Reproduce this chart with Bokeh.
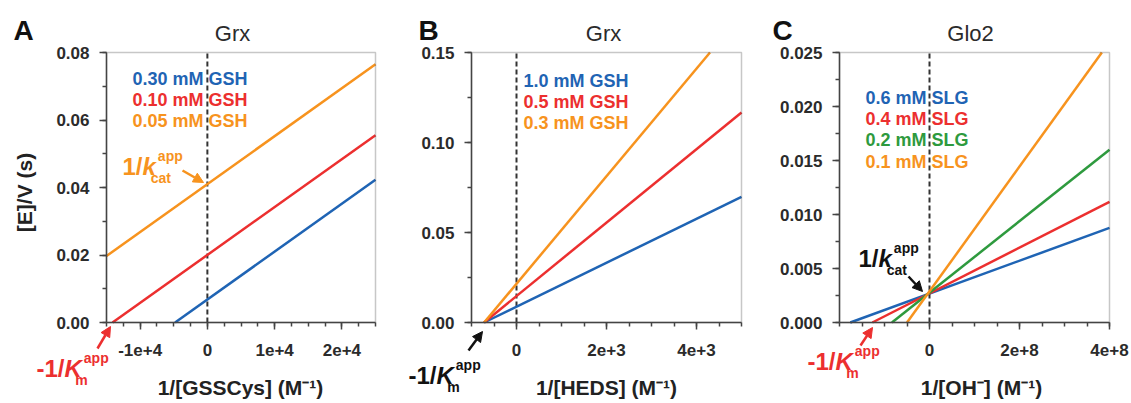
import math
from bokeh.plotting import figure
from bokeh.models import Label, Arrow, NormalHead, FixedTicker, Range1d, BoxAnnotation
from bokeh.layouts import row
from bokeh.embed import file_html
from bokeh.resources import INLINE

FONT = "Liberation Sans"
BLUE, RED, ORANGE, GREEN = "#1f64b4", "#ec2f2f", "#f7931e", "#2e9a3e"
DARK = "#2b2b2b"
AXIS = "#444444"

# ---------------- data ----------------
# Panel A: Grx, 1/[GSSCys]
a_title = "Grx"
a_labels = ["0.30 mM GSH", "0.10 mM GSH", "0.05 mM GSH"]
a_x_030 = [-4800, 25000]
a_y_030 = [0.0, 0.0423]
a_x_010 = [-14100, 25000]
a_y_010 = [0.0, 0.0555]
a_x_005 = [-15000, 25000]
a_y_005 = [0.0197, 0.0765]
a_xticks = [-10000, 0, 10000, 20000]
a_xtick_labels = ["-1e+4", "0", "1e+4", "2e+4"]
a_yticks = [0.0, 0.02, 0.04, 0.06, 0.08]
a_ytick_labels = ["0.00", "0.02", "0.04", "0.06", "0.08"]

# Panel B: Grx, 1/[HEDS]
b_title = "Grx"
b_labels = ["1.0 mM GSH", "0.5 mM GSH", "0.3 mM GSH"]
b_x_10 = [-720, 5000]
b_y_10 = [0.0, 0.0698]
b_x_05 = [-720, 5000]
b_y_05 = [0.0, 0.1167]
b_x_03 = [-720, 4300]
b_y_03 = [0.0, 0.15]
b_xticks = [0, 2000, 4000]
b_xtick_labels = ["0", "2e+3", "4e+3"]
b_yticks = [0.0, 0.05, 0.1, 0.15]
b_ytick_labels = ["0.00", "0.05", "0.10", "0.15"]

# Panel C: Glo2, 1/[OH-]
c_title = "Glo2"
c_labels = ["0.6 mM SLG", "0.4 mM SLG", "0.2 mM SLG", "0.1 mM SLG"]
c_x_06 = [-1.76e8, 4e8]
c_y_06 = [0.0, 0.00876]
c_x_04 = [-1.27e8, 4e8]
c_y_04 = [0.0, 0.01117]
c_x_02 = [-0.835e8, 4e8]
c_y_02 = [0.0, 0.0160]
c_x_01 = [-0.5e8, 3.83e8]
c_y_01 = [0.0, 0.025]
c_xticks = [0, 2e8, 4e8]
c_xtick_labels = ["0", "2e+8", "4e+8"]
c_yticks = [0.0, 0.005, 0.01, 0.015, 0.02, 0.025]
c_ytick_labels = ["0.000", "0.005", "0.010", "0.015", "0.020", "0.025"]

# ---------------- layout helpers ----------------
H = 402
BT, BB = 52, 322  # plot box top / bottom in page pixels


def make_panel(origin, width, bx0, bx1, xr, yr, xticks, xlabels, xminor,
               yticks, ylabels, yminor):
    kx = (bx1 - bx0) / (xr[1] - xr[0])
    ky = (BB - BT) / (yr[1] - yr[0])
    x_start = xr[0] - (bx0 - origin) / kx
    x_end = xr[1] + (origin + width - bx1) / kx
    y_start = yr[0] - (H - BB) / ky
    y_end = yr[1] + BT / ky
    p = figure(width=width, height=H, x_range=Range1d(x_start, x_end),
               y_range=Range1d(y_start, y_end),
               output_backend="svg", toolbar_location=None, title=None,
               min_border=0, min_border_left=0, min_border_right=0,
               min_border_top=0, min_border_bottom=0)
    p.xgrid.grid_line_color = None
    p.ygrid.grid_line_color = None
    p.outline_line_color = None
    p.background_fill_color = "white"
    p.border_fill_color = "white"
    p.xaxis.fixed_location = yr[0]
    p.yaxis.fixed_location = xr[0]
    p.xaxis.bounds = (xr[0], xr[1])
    p.yaxis.bounds = (yr[0], yr[1])
    p.xaxis.ticker = FixedTicker(ticks=xticks, minor_ticks=xminor)
    p.yaxis.ticker = FixedTicker(ticks=yticks, minor_ticks=yminor)
    p.xaxis.major_label_overrides = {t: l for t, l in zip(xticks, xlabels)}
    p.yaxis.major_label_overrides = {t: l for t, l in zip(yticks, ylabels)}
    for ax in (p.xaxis[0], p.yaxis[0]):
        ax.axis_line_color = AXIS
        ax.axis_line_width = 1.5
        ax.major_tick_line_color = AXIS
        ax.major_tick_line_width = 1.5
        ax.major_tick_in = 0
        ax.major_tick_out = 7
        ax.minor_tick_line_color = AXIS
        ax.minor_tick_line_width = 1.5
        ax.minor_tick_in = 0
        ax.minor_tick_out = 4
        ax.major_label_text_font = FONT
        ax.major_label_text_font_size = "17px"
        ax.major_label_text_font_style = "bold"
        ax.major_label_text_color = DARK
    p.xaxis.major_label_standoff = 14
    p.yaxis.major_label_standoff = 10
    # plot box outline and dashed line at x = 0
    p.add_layout(BoxAnnotation(left=xr[0], right=xr[1], bottom=yr[0], top=yr[1],
                               fill_alpha=0, line_color=AXIS, line_width=1.5))
    p.segment(x0=[0], y0=[yr[0]], x1=[0], y1=[yr[1]], line_color="#333333",
              line_dash="5 3", line_width=2)

    def conv(px, py):
        x = xr[0] + (px - bx0) / kx
        y = yr[0] + (BB - py) / ky
        return x, y

    return p, conv


def text(p, conv, px, py, s, size, color, style="bold", align="left",
         on_baseline=True, angle=0.0):
    # py is the alphabetic baseline (on_baseline) or the vertical centre
    cy = py - 0.36 * size if on_baseline else py
    x, y = conv(px, cy)
    p.add_layout(Label(x=x, y=y, text=s, text_font=FONT, text_font_size=f"{size}px",
                       text_font_style=style, text_color=color, text_align=align,
                       text_baseline="middle", angle=angle))


def arrow(p, conv, p0, p1, color):
    x0, y0 = conv(*p0)
    x1, y1 = conv(*p1)
    p.add_layout(Arrow(end=NormalHead(size=10, line_color=color, fill_color=color,
                                      line_width=1),
                       x_start=x0, y_start=y0, x_end=x1, y_end=y1,
                       line_color=color, line_width=2.5))


def kin_label(p, conv, px, pyb, color, letter, sub, size=24):
    s = size
    if letter == "K":
        prefix, pw, lw = "-1/", (0.333 + 0.556 + 0.278) * s, 0.722 * s
    else:
        prefix, pw, lw = "1/", (0.556 + 0.278) * s, 0.556 * s
    small = round(0.58 * s)
    text(p, conv, px, pyb, prefix, s, color)
    text(p, conv, px + pw, pyb, letter, s, color, style="bold italic")
    text(p, conv, px + pw + lw + 2, pyb - 0.6 * s, "app", small, color)
    text(p, conv, px + pw + lw * 0.62, pyb + 0.32 * s, sub, small, color)


def header(p, conv, letter, lx, title, tx):
    text(p, conv, lx, 40, letter, 28, "#111111")
    text(p, conv, tx, 41, title, 22, DARK, style="normal", align="center")


def xlabel(p, conv, cx, s):
    text(p, conv, cx, 395, s, 21, "#222222", align="center")


def rng(a, b, step):
    n = int(round((b - a) / step))
    return [a + i * step for i in range(n + 1)]


# ---------------- Panel A ----------------
pa, ca = make_panel(0, 400, 106, 375, (-15000, 25000), (0, 0.08),
                    a_xticks, a_xtick_labels, rng(-15000, 25000, 2500),
                    a_yticks, a_ytick_labels, rng(0, 0.08, 0.01))
pa.line(a_x_030, a_y_030, line_color=BLUE, line_width=2.5)
pa.line(a_x_010, a_y_010, line_color=RED, line_width=2.5)
pa.line(a_x_005, a_y_005, line_color=ORANGE, line_width=2.5)
header(pa, ca, "A", 13, a_title, 232)
for lab, col, yy in zip(a_labels, [BLUE, RED, ORANGE], [78, 99, 120]):
    text(pa, ca, 132, yy, lab, 18, col, on_baseline=False)
kin_label(pa, ca, 122, 175, ORANGE, "k", "cat")
arrow(pa, ca, (182, 170), (203, 182), ORANGE)
kin_label(pa, ca, 36, 377, RED, "K", "m")
arrow(pa, ca, (97, 348), (110, 326), RED)
xlabel(pa, ca, 240, "1/[GSSCys] (M\u207b\u00b9)")
text(pa, ca, 24, 192, "[E]/V (s)", 21, "#222222", align="center",
     on_baseline=False, angle=math.pi / 2)

# ---------------- Panel B ----------------
pb, cb = make_panel(400, 360, 471, 741, (-1000, 5000), (0, 0.15),
                    b_xticks, b_xtick_labels, rng(-1000, 5000, 500),
                    b_yticks, b_ytick_labels, rng(0, 0.15, 0.025))
pb.line(b_x_10, b_y_10, line_color=BLUE, line_width=2.5)
pb.line(b_x_05, b_y_05, line_color=RED, line_width=2.5)
pb.line(b_x_03, b_y_03, line_color=ORANGE, line_width=2.5)
header(pb, cb, "B", 418, b_title, 603)
for lab, col, yy in zip(b_labels, [BLUE, RED, ORANGE], [80, 101, 122]):
    text(pb, cb, 523, yy, lab, 18, col, on_baseline=False)
kin_label(pb, cb, 408, 384, "#111111", "K", "m")
arrow(pb, cb, (468, 350), (482, 331), "#111111")
xlabel(pb, cb, 606, "1/[HEDS] (M\u207b\u00b9)")

# ---------------- Panel C ----------------
pc, cc = make_panel(760, 370, 839, 1109, (-2e8, 4e8), (0, 0.025),
                    c_xticks, c_xtick_labels, rng(-2e8, 4e8, 5e7),
                    c_yticks, c_ytick_labels, rng(0, 0.025, 0.0025))
pc.line(c_x_06, c_y_06, line_color=BLUE, line_width=2.5)
pc.line(c_x_04, c_y_04, line_color=RED, line_width=2.5)
pc.line(c_x_02, c_y_02, line_color=GREEN, line_width=2.5)
pc.line(c_x_01, c_y_01, line_color=ORANGE, line_width=2.5)
header(pc, cc, "C", 772, c_title, 970)
for lab, col, yy in zip(c_labels, [BLUE, RED, GREEN, ORANGE], [97, 118, 139, 161]):
    text(pc, cc, 865, yy, lab, 18, col, on_baseline=False)
kin_label(pc, cc, 858, 267, "#111111", "k", "cat")
arrow(pc, cc, (908, 276), (922, 291), "#111111")
kin_label(pc, cc, 807, 370, RED, "K", "m")
arrow(pc, cc, (860, 345), (872, 327), RED)
xlabel(pc, cc, 981, "1/[OH\u207b] (M\u207b\u00b9)")

layout = row(pa, pb, pc)
open("out.html", "w").write(file_html(layout, INLINE))
